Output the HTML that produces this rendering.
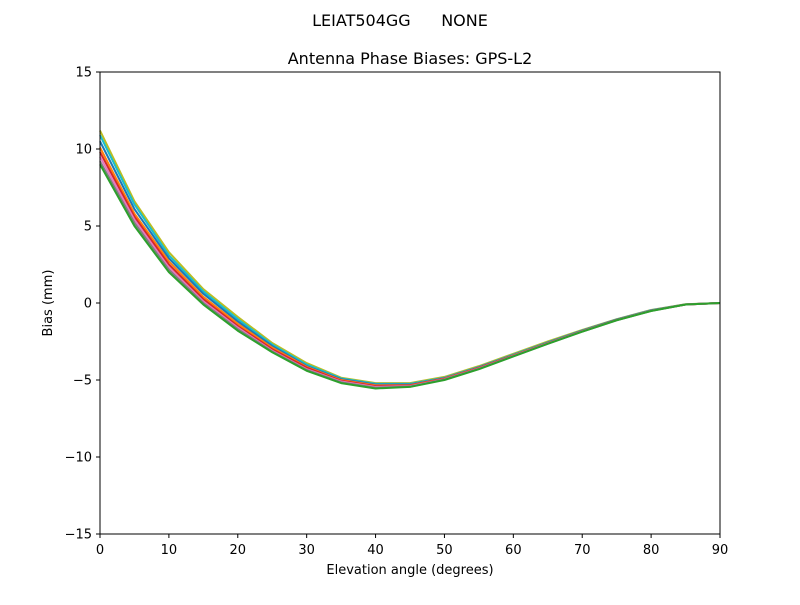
<!DOCTYPE html>
<html><head><meta charset="utf-8"><style>
body{margin:0;background:#fff}
svg text{font-family:"DejaVu Sans","Liberation Sans",sans-serif;fill:#000}
</style></head><body>
<svg id="chart" width="800" height="600" xmlns="http://www.w3.org/2000/svg">
<rect width="800" height="600" fill="#fff"/>
<text x="400" y="26" font-size="16" text-anchor="middle" style="white-space:pre" xml:space="preserve">LEIAT504GG      NONE</text>
<text x="410" y="64" font-size="16" text-anchor="middle">Antenna Phase Biases: GPS-L2</text>
<g id="series"></g>
<rect x="100" y="72" width="620" height="462" fill="none" stroke="#000" stroke-width="1"/>
<g id="xticks"></g>
<g id="yticks"></g>
<text x="410" y="574" font-size="13" text-anchor="middle">Elevation angle (degrees)</text>
<text x="52" y="303" font-size="13" text-anchor="middle" transform="rotate(-90 52 303)">Bias (mm)</text>
</svg>
<script>
const elevations=[0,5,10,15,20,25,30,35,40,45,50,55,60,65,70,75,80,85,90];
const xTickLabels=[0,10,20,30,40,50,60,70,80,90];
const yTickLabels=[15,10,5,0,-5,-10,-15];
const seriesColors=["#bcbd22","#17becf","#1f77b4","#ff7f0e","#d62728","#e377c2","#7f7f7f","#2ca02c"];
const s1=[11.2,6.6,3.3,0.9,-0.9,-2.6,-3.9,-4.85,-5.2,-5.2,-4.8,-4.1,-3.3,-2.5,-1.75,-1.05,-0.45,-0.08,0];
const s2=[10.9,6.4,3.1,0.75,-1.05,-2.7,-4.0,-4.9,-5.25,-5.25,-4.85,-4.15,-3.35,-2.55,-1.78,-1.07,-0.47,-0.09,0];
const s3=[10.5,6.1,2.9,0.6,-1.2,-2.8,-4.1,-4.95,-5.3,-5.3,-4.88,-4.18,-3.38,-2.57,-1.8,-1.08,-0.48,-0.1,0];
const s4=[10.1,5.8,2.7,0.4,-1.35,-2.9,-4.15,-5.0,-5.35,-5.33,-4.9,-4.2,-3.4,-2.6,-1.82,-1.1,-0.5,-0.1,0];
const s5=[9.8,5.6,2.5,0.25,-1.5,-3.0,-4.2,-5.05,-5.4,-5.36,-4.92,-4.22,-3.42,-2.62,-1.83,-1.1,-0.5,-0.1,0];
const s6=[9.5,5.4,2.3,0.1,-1.6,-3.1,-4.3,-5.1,-5.45,-5.4,-4.95,-4.25,-3.44,-2.63,-1.84,-1.11,-0.5,-0.1,0];
const s7=[9.2,5.2,2.15,0.0,-1.7,-3.15,-4.35,-5.15,-5.5,-5.43,-4.97,-4.27,-3.45,-2.64,-1.85,-1.12,-0.51,-0.1,0];
const s8=[9.0,5.0,2.0,-0.1,-1.8,-3.2,-4.4,-5.2,-5.55,-5.45,-5.0,-4.3,-3.47,-2.65,-1.86,-1.12,-0.52,-0.1,0];
const allSeries=[s1,s2,s3,s4,s5,s6,s7,s8];
const NS="http://www.w3.org/2000/svg";
function xs(v){return 100+(v-0)/90*620;}
function ys(v){return 72+(15-v)/30*462;}
const sg=document.getElementById('series');
allSeries.forEach((s,i)=>{
  const p=document.createElementNS(NS,'polyline');
  p.setAttribute('points',s.map((v,j)=>xs(elevations[j]).toFixed(2)+','+ys(v).toFixed(2)).join(' '));
  p.setAttribute('fill','none');p.setAttribute('stroke',seriesColors[i]);p.setAttribute('stroke-width','2');
  p.setAttribute('stroke-linejoin','round');
  
  
  sg.appendChild(p);
});
const xg=document.getElementById('xticks');
xTickLabels.forEach(v=>{
  const l=document.createElementNS(NS,'line');
  l.setAttribute('x1',xs(v));l.setAttribute('x2',xs(v));l.setAttribute('y1',534);l.setAttribute('y2',538);l.setAttribute('stroke','#000');
  
  
  xg.appendChild(l);
  const t=document.createElementNS(NS,'text');
  t.setAttribute('x',xs(v));t.setAttribute('y',554);t.setAttribute('font-size','13');t.setAttribute('text-anchor','middle');
  t.textContent=v;
  
  
  xg.appendChild(t);
});
const yg=document.getElementById('yticks');
yTickLabels.forEach(v=>{
  const l=document.createElementNS(NS,'line');
  l.setAttribute('x1',96);l.setAttribute('x2',100);l.setAttribute('y1',ys(v));l.setAttribute('y2',ys(v));l.setAttribute('stroke','#000');
  
  
  yg.appendChild(l);
  const t=document.createElementNS(NS,'text');
  t.setAttribute('x',92);t.setAttribute('y',ys(v)+4.5);t.setAttribute('font-size','13');t.setAttribute('text-anchor','end');
  t.textContent=v<0?'\u2212'+Math.abs(v):v;
  
  
  yg.appendChild(t);
});
</script>
</body></html>
